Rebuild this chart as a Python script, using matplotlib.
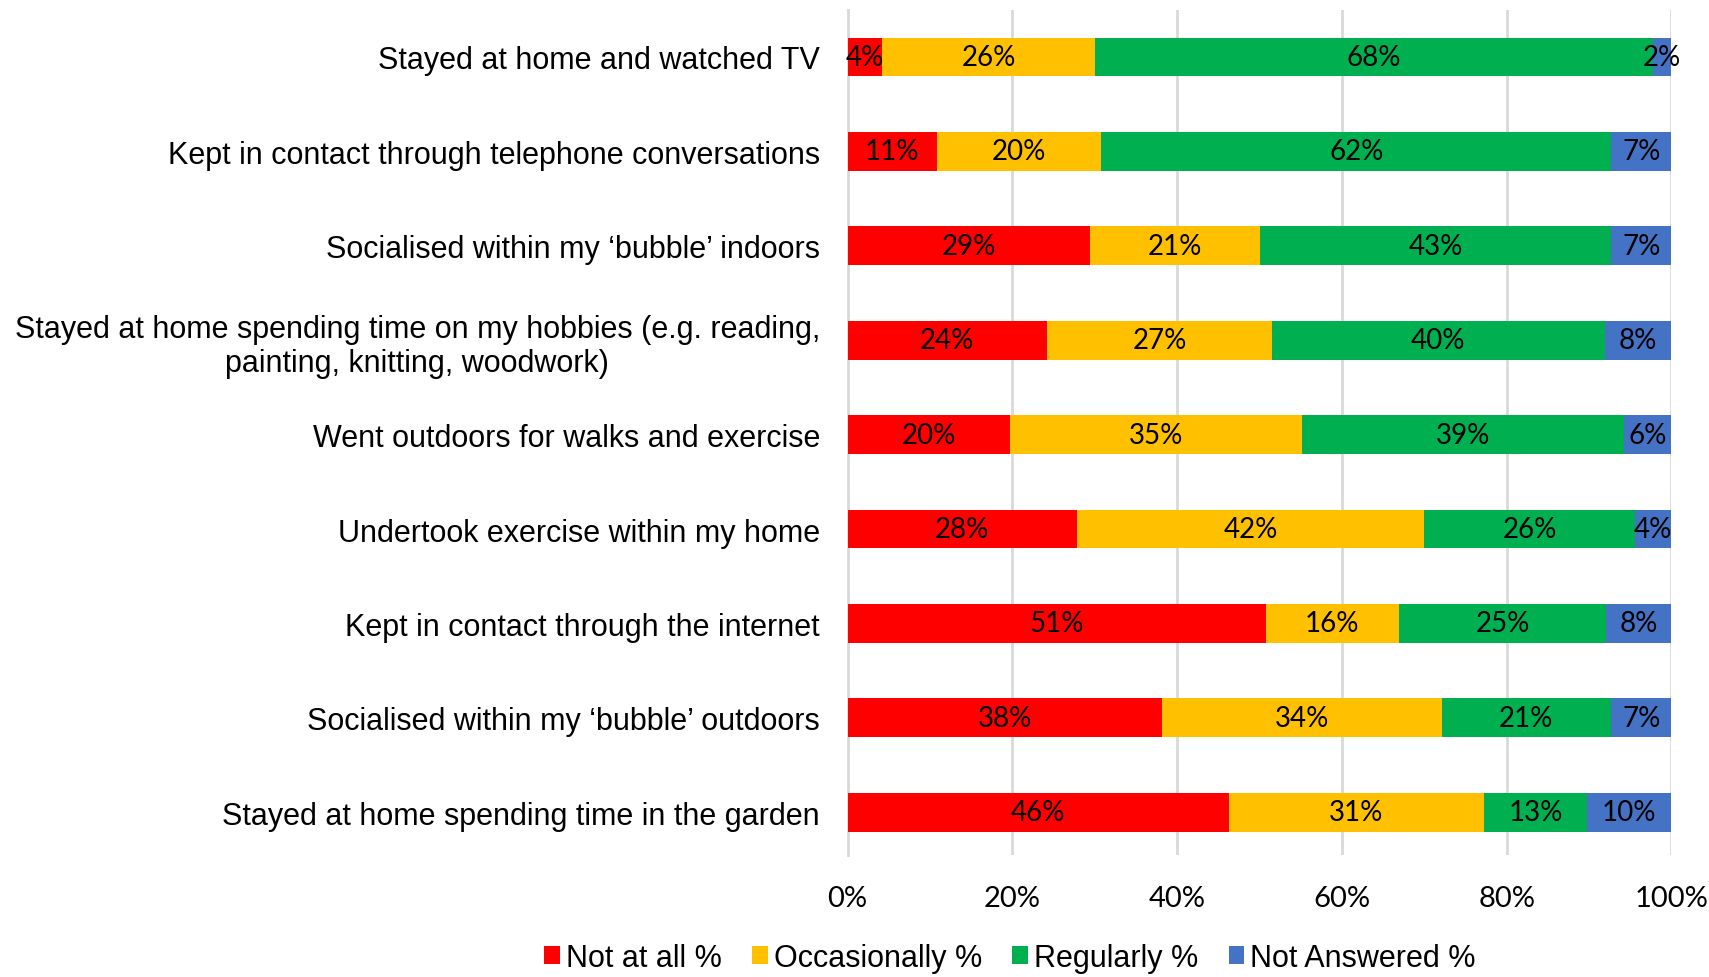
import matplotlib
matplotlib.use('Agg')
import matplotlib.pyplot as plt
import numpy as np

# Категории (сверху вниз) и доли ответов, %
categories = [
    "Stayed at home and watched TV",
    "Kept in contact through telephone conversations",
    "Socialised within my \u2018bubble\u2019 indoors",
    "Stayed at home spending time on my hobbies (e.g. reading,\npainting, knitting, woodwork)",
    "Went outdoors for walks and exercise",
    "Undertook exercise within my home",
    "Kept in contact through the internet",
    "Socialised within my \u2018bubble\u2019 outdoors",
    "Stayed at home spending time in the garden",
]
not_at_all   = [4.2, 10.8, 29.4, 24.2, 19.7, 27.8, 50.8, 38.1, 46.3]
occasionally = [25.8, 20.0, 20.6, 27.3, 35.4, 42.2, 16.1, 34.0, 30.9]
regularly    = [67.8, 61.9, 42.7, 40.4, 39.2, 25.6, 25.2, 20.6, 12.6]
not_answered = [2.2, 7.3, 7.3, 8.1, 5.7, 4.4, 7.9, 7.3, 10.2]

series = [
    ("Not at all %", not_at_all, "#FF0000"),
    ("Occasionally %", occasionally, "#FFC000"),
    ("Regularly %", regularly, "#00B050"),
    ("Not Answered %", not_answered, "#4472C4"),
]
xticks = [0, 20, 40, 60, 80, 100]

fig = plt.figure(figsize=(17.09, 9.78), dpi=100)
ax = fig.add_axes([0.496, 0.125, 0.482, 0.864])

y = np.arange(len(categories))
left = np.zeros(len(categories))
for name, vals, color in series:
    vals = np.array(vals)
    bars = ax.barh(y, vals, left=left, height=0.41, color=color, label=name, zorder=3)
    ax.bar_label(bars, labels=[f"{v:.0f}%" for v in vals], label_type='center',
                 fontsize=20, family='Lato', color='black', zorder=4)
    left += vals

ax.set_xlim(0, 100)
ax.set_ylim(8.45, -0.5)
ax.set_yticks(y)
ax.set_yticklabels(categories, fontsize=22, family='Liberation Sans')
for lbl in ax.get_yticklabels():
    lbl.set_multialignment('center')
ax.set_xticks(xticks)
ax.set_xticklabels([f"{t}%" for t in xticks], fontsize=21, family='Lato')
ax.tick_params(axis='y', length=0, pad=20)
ax.tick_params(axis='x', length=0, pad=22)
ax.grid(axis='x', color='#D9D9D9', linewidth=2, zorder=0)
for s in ['top', 'right', 'bottom']:
    ax.spines[s].set_visible(False)
ax.spines['left'].set_color('#D9D9D9')
ax.spines['left'].set_linewidth(2)

fig.legend(loc='lower center', bbox_to_anchor=(0.591, -0.024), ncol=4, frameon=False,
           prop={'family': 'Liberation Sans', 'size': 22}, handlelength=0.5, handleheight=0.5,
           handletextpad=0.2, columnspacing=1.0)

plt.savefig('out.png', dpi=100)
